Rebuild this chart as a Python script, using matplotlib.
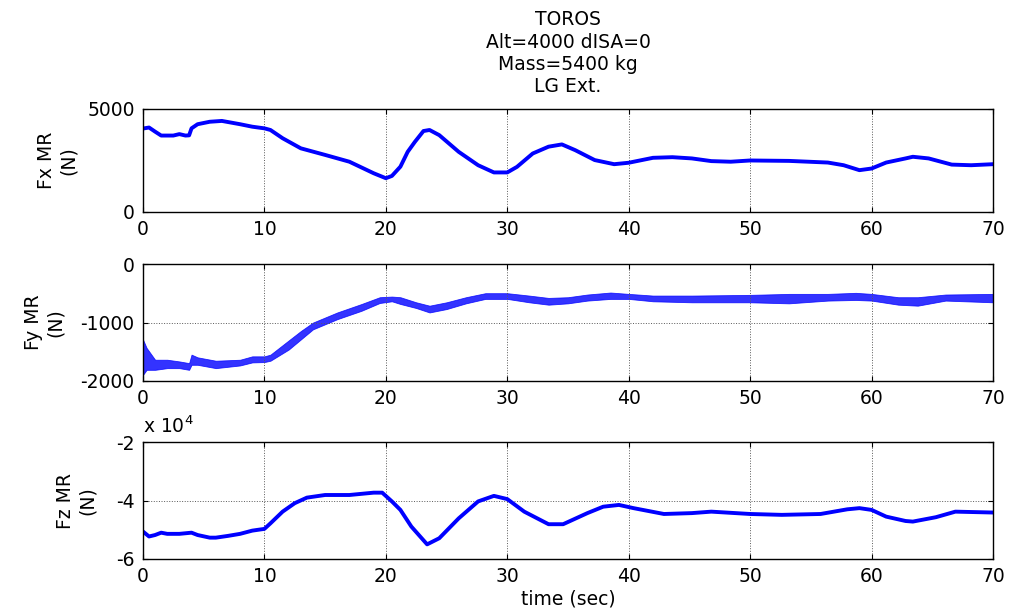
import matplotlib.pyplot as plt
from matplotlib.ticker import FuncFormatter

# Fx MR (N)
fx_t = [0, 0.5, 1.0, 1.5, 2.5, 3.0, 3.5, 3.8, 4.0, 4.5, 5.5, 6.5, 8.0, 9.0, 10.0, 10.5,
        11.5, 13.0, 15.0, 17.0, 19.0, 20.0, 20.5, 21.2, 21.8, 22.4, 23.1, 23.6, 24.4,
        26.0, 27.6, 28.9, 30.0, 30.8, 32.1, 33.4, 34.5, 35.6, 37.2, 38.8, 40.0, 42.0,
        43.6, 45.2, 46.8, 48.4, 50.0, 53.2, 56.4, 57.7, 59.0, 60.0, 61.2, 62.8, 63.4,
        64.7, 66.6, 68.2, 70.0]
fx = [4050, 4100, 3900, 3710, 3710, 3780, 3710, 3720, 4060, 4260, 4380, 4420, 4260, 4140,
      4060, 3980, 3580, 3090, 2770, 2440, 1880, 1640, 1750, 2200, 2920, 3410, 3930, 3980,
      3730, 2920, 2270, 1920, 1920, 2190, 2840, 3170, 3280, 3000, 2520, 2320, 2390, 2630,
      2660, 2600, 2470, 2440, 2500, 2480, 2400, 2270, 2030, 2110, 2400, 2600, 2680, 2600,
      2300, 2270, 2320]

# Fy MR (N): upper / lower edge of the vibrating band
fy_t = [0, 0.3, 1.0, 2.0, 3.0, 3.8, 4.0, 4.5, 6.0, 8.0, 9.0, 10.0, 10.5, 12.0, 13.0, 14.0,
        16.0, 18.0, 19.5, 20.5, 21.2, 22.5, 23.6, 25.0, 26.6, 28.2, 30.0, 31.8, 33.4, 35.0,
        36.6, 38.5, 40.0, 42.0, 45.2, 50.0, 53.2, 56.4, 58.7, 60.0, 62.2, 63.8, 66.1, 70.0]
fy_hi = [-1290, -1433, -1636, -1636, -1665, -1694, -1549, -1595, -1653, -1636, -1578, -1578,
         -1549, -1306, -1145, -1000, -827, -682, -566, -555, -566, -653, -711, -653, -566,
         -497, -497, -538, -578, -566, -520, -486, -509, -538, -538, -526, -509, -509, -491,
         -509, -566, -566, -520, -509]
fy_lo = [-1896, -1809, -1809, -1780, -1780, -1809, -1723, -1723, -1780, -1734, -1682, -1676,
         -1653, -1462, -1289, -1116, -942, -798, -665, -636, -682, -751, -827, -769, -671,
         -595, -595, -653, -694, -671, -624, -595, -595, -636, -653, -653, -671, -624, -613,
         -624, -694, -711, -624, -653]

# Fz MR (N)
fz_t = [0, 0.5, 1.0, 1.5, 2.0, 3.0, 4.0, 4.5, 5.5, 6.0, 7.0, 8.0, 9.0, 10.0, 10.5, 11.5,
        12.5, 13.5, 15.0, 17.0, 19.0, 19.7, 20.5, 21.2, 22.1, 23.4, 24.4, 26.0, 27.6, 28.9,
        30.0, 31.4, 33.4, 34.6, 36.6, 37.9, 39.2, 40.4, 42.9, 45.2, 46.8, 50.0, 52.6, 55.8,
        58.0, 59.0, 60.0, 61.2, 62.8, 63.4, 65.3, 66.9, 70.0]
fz = [-50600, -52300, -51800, -51000, -51400, -51400, -51000, -51800, -52700, -52700,
      -52100, -51400, -50300, -49700, -47800, -43800, -40900, -39000, -38100, -38100,
      -37300, -37300, -40300, -43200, -48900, -55000, -52900, -46100, -40300, -38400,
      -39500, -43800, -48100, -48100, -44300, -42100, -41500, -42600, -44600, -44300,
      -43800, -44600, -44900, -44600, -43000, -42600, -43200, -45500, -47000, -47200,
      -45700, -43800, -44100]

title_lines = ["TOROS", "Alt=4000 dISA=0", "Mass=5400 kg", "LG Ext."]
x_ticks = [0, 10, 20, 30, 40, 50, 60, 70]

plt.rcParams['font.family'] = ['DejaVu Sans']
plt.rcParams['font.size'] = 13.5
plt.rcParams['axes.unicode_minus'] = False

fig = plt.figure(figsize=(10.11, 6.15), dpi=100)
ax1 = fig.add_axes([0.1414, 0.6553, 0.8408, 0.1675])
ax2 = fig.add_axes([0.1414, 0.3805, 0.8408, 0.1900])
ax3 = fig.add_axes([0.1414, 0.0911, 0.8408, 0.1900])

ax1.plot(fx_t, fx, color='b', lw=2.8)
ax2.fill_between(fy_t, fy_lo, fy_hi, color='b', lw=0.6, alpha=0.8)
ax3.plot(fz_t, fz, color='b', lw=2.8)

ax1.set_ylim(0, 5000)
ax1.set_yticks([0, 5000])
ax2.set_ylim(-2000, 0)
ax2.set_yticks([-2000, -1000, 0])
ax3.set_ylim(-60000, -20000)
ax3.set_yticks([-60000, -40000, -20000])
ax3.yaxis.set_major_formatter(FuncFormatter(lambda v, p: f'{v / 1e4:g}'))
ax3.text(0, 1 + 9 / 117, r'x 10$^{4}$', transform=ax3.transAxes,
         ha='left', va='baseline')

labels = ["Fx MR\n(N)", "Fy MR\n(N)", "Fz MR\n(N)"]
label_x = [-0.0765, -0.0918, -0.0541]
for ax, lab, lx in zip([ax1, ax2, ax3], labels, label_x):
    ax.set_xlim(0, 70)
    ax.set_xticks(x_ticks)
    ax.tick_params(direction='in', length=3.5, top=True, right=True, pad=6)
    ax.grid(True, ls=':', color='0.35', lw=0.7)
    for s in ax.spines.values():
        s.set_linewidth(1.0)
    ax.set_ylabel(lab, ma='center')
    ax.yaxis.set_label_coords(lx, 0.5)

ax1.set_title("\n".join(title_lines), pad=12, linespacing=1.22, fontsize=13.5)
ax3.set_xlabel("time (sec)", labelpad=2)

fig.savefig("out.png", dpi=100)
